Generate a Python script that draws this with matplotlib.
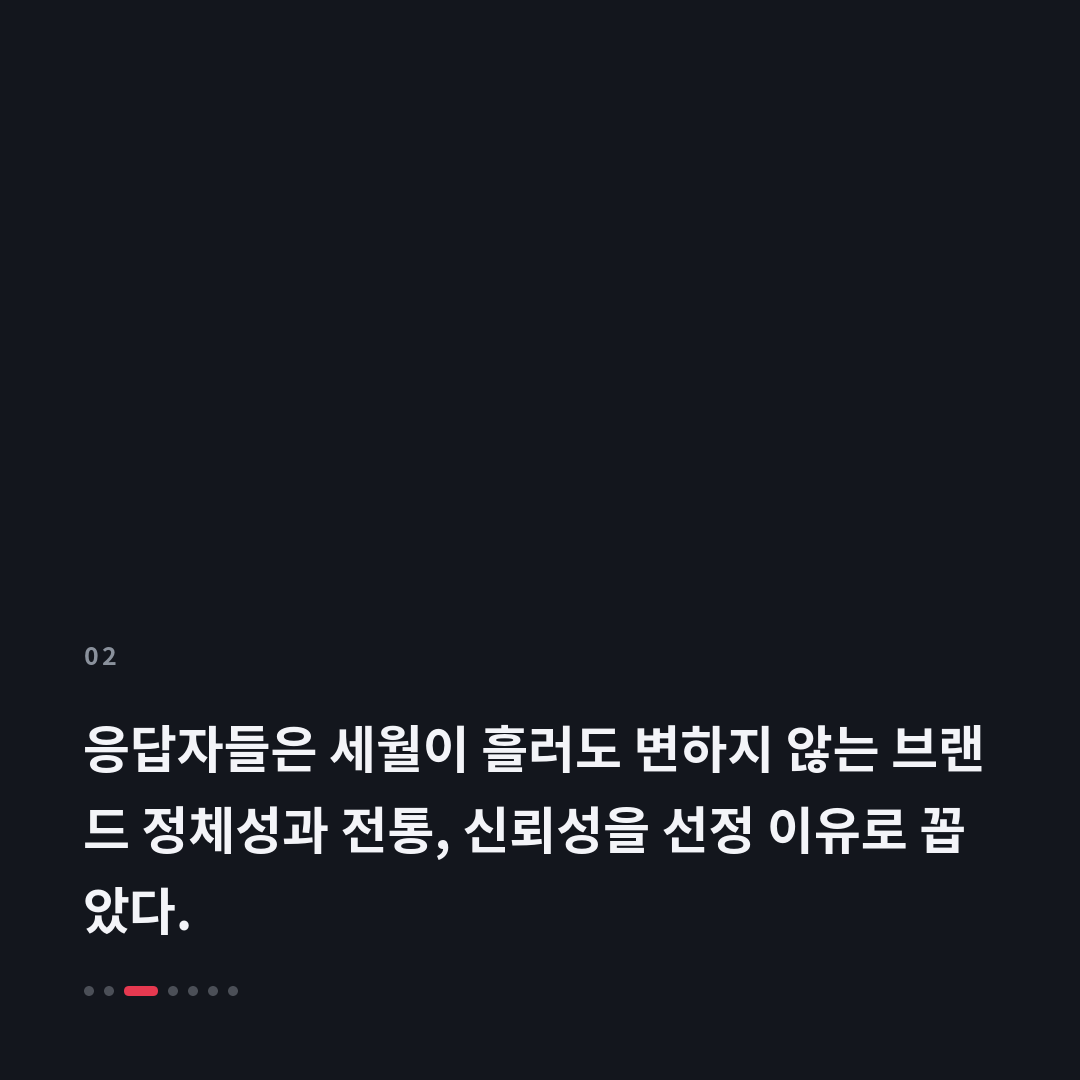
import matplotlib
matplotlib.use("Agg")
import matplotlib.pyplot as plt
from matplotlib.patches import FancyBboxPatch, Circle

plt.rcParams['font.family'] = ['Noto Sans CJK KR', 'DejaVu Sans']

slide_no = "02"
title_lines = [
    "응답자들은 세월이 흘러도 변하지 않는 브랜",
    "드 정체성과 전통, 신뢰성을 선정 이유로 꼽",
    "았다.",
]
n_pages = 7
active_page = 2

bg = "#13161d"
W = H = 1080

fig = plt.figure(figsize=(10.8, 10.8), dpi=100)
fig.patch.set_facecolor(bg)
ax = fig.add_axes([0, 0, 1, 1])
ax.set_xlim(0, W)
ax.set_ylim(H, 0)
ax.axis("off")

# slide number, drawn char by char for the letter spacing
for k, ch in enumerate(slide_no):
    ax.text(84 + k * 17, 658, ch, color="#8a919c", fontsize=18,
            fontweight="semibold", va="center", ha="left")

# title
for i, line in enumerate(title_lines):
    ax.text(83, 768 + i * 81, line, color="#f3f4f8", fontsize=36.7,
            fontweight="bold", va="baseline", ha="left")

# pager dots
x = 89
for i in range(n_pages):
    if i == active_page:
        ax.add_patch(FancyBboxPatch((x - 5, 986), 34, 10,
                                    boxstyle="round,pad=0,rounding_size=5",
                                    fc="#e63950", ec="none"))
        x += 44
    else:
        ax.add_patch(Circle((x, 991), 5, fc="#4b4f57", ec="none"))
        x += 20

fig.savefig("out.png", dpi=100, facecolor=bg)
